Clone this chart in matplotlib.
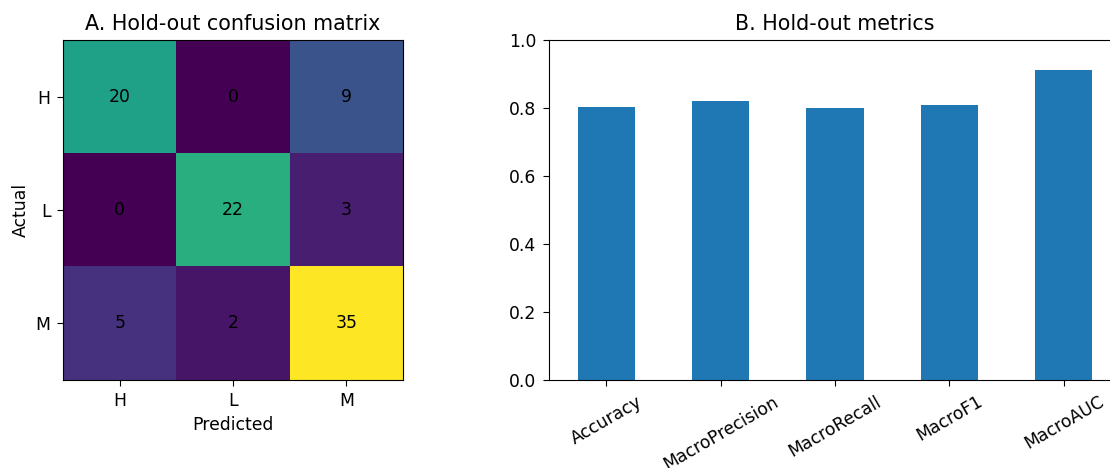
import matplotlib
matplotlib.use('Agg')
import matplotlib.pyplot as plt
import numpy as np

class_labels = ['H', 'L', 'M']
confusion = [
    [20, 0, 9],
    [0, 22, 3],
    [5, 2, 35],
]

metric_names = ['Accuracy', 'MacroPrecision', 'MacroRecall', 'MacroF1', 'MacroAUC']
metric_values = [0.802, 0.820, 0.801, 0.808, 0.912]

fig = plt.figure(figsize=(11.1, 4.68), dpi=100)
W, H = 1110, 468
fs = 12.4

# A. confusion matrix
ax_cm = fig.add_axes([63 / W, 1 - 380 / H, 340 / W, 340 / H])
cm = np.array(confusion)
ax_cm.imshow(cm, cmap='viridis', aspect='auto')
for i in range(cm.shape[0]):
    for j in range(cm.shape[1]):
        ax_cm.text(j, i, str(cm[i, j]), ha='center', va='center', color='black', fontsize=fs)
ax_cm.set_xticks(range(len(class_labels)))
ax_cm.set_xticklabels(class_labels, fontsize=fs)
ax_cm.set_yticks(range(len(class_labels)))
ax_cm.set_yticklabels(class_labels, fontsize=fs)
ax_cm.tick_params(length=4.5, pad=4.5)
ax_cm.set_xlabel('Predicted', fontsize=fs, labelpad=4)
ax_cm.set_ylabel('Actual', fontsize=fs, labelpad=4)
ax_cm.set_title('A. Hold-out confusion matrix', fontsize=14.9, pad=7)

# B. metrics bar chart (axes runs past the right edge like the original crop)
ax_bar = fig.add_axes([549 / W, 1 - 380 / H, 572 / W, 340 / H])
x = np.arange(len(metric_names))
ax_bar.bar(x, metric_values, width=0.5, color='#1f77b4')
ax_bar.set_xlim(-0.5, len(metric_names) - 0.5)
ax_bar.set_ylim(0, 1.0)
ax_bar.set_xticks(x)
ax_bar.set_xticklabels(metric_names, rotation=30, fontsize=fs)
ax_bar.tick_params(axis='y', labelsize=fs)
ax_bar.tick_params(length=4.5, pad=4.5)
ax_bar.set_title('B. Hold-out metrics', fontsize=14.9, pad=7)

fig.savefig('out.png', dpi=100)
plt.close('all')
